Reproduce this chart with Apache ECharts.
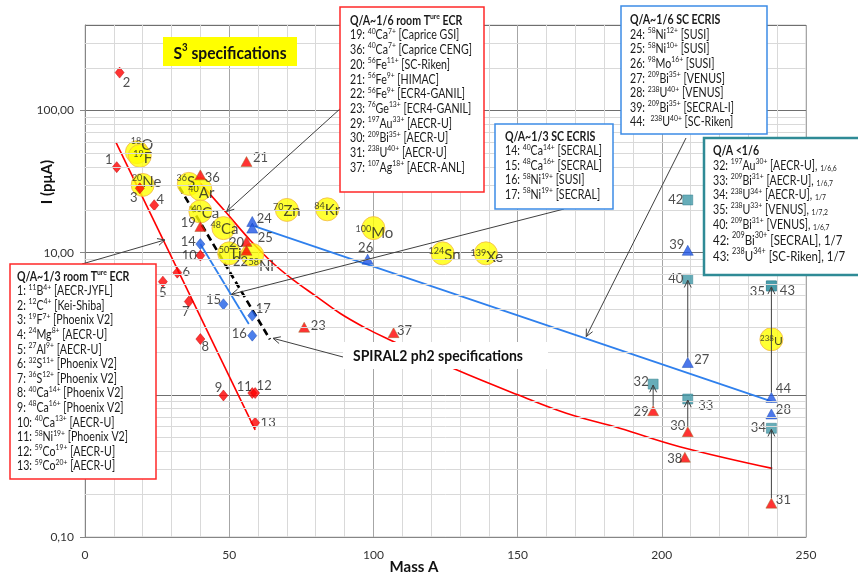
<!DOCTYPE html>
<html>
<head>
<meta charset="utf-8">
<script src="https://cdn.jsdelivr.net/npm/echarts@6/dist/echarts.min.js"></script>
<style>html,body{margin:0;padding:0;background:#fff}#main{width:858px;height:579px}</style>
</head>
<body>
<div id="main"></div>
<script>
var FONT = 'Lato, "Open Sans", sans-serif';

// Q/A~1/3 room temperature ECR (red diamonds)
var rtThirdIds  = [1, 2, 3, 4, 5, 6, 7, 8, 9, 10, 11, 12, 13];
var rtThirdMass = [11, 12, 19, 24, 27, 32, 36, 40, 48, 40, 58, 59, 59];
var rtThirdI    = [40, 185, 28.4, 21.6, 6.26, 7.24, 4.53, 2.47, 0.99, 9.55, 1.03, 1.03, 0.637];
// Q/A~1/3 SC ECRIS (blue diamonds)
var scThirdIds  = [14, 15, 16, 17];
var scThirdMass = [40, 48, 58, 58];
var scThirdI    = [11.5, 4.34, 2.61, 3.61];
// Q/A~1/6 room temperature ECR (red triangles)
var rtSixthIds  = [19, 36, 20, 21, 22, 23, 29, 30, 31, 37, 38];
var rtSixthMass = [40, 40, 56, 56, 56, 76, 197, 209, 238, 107, 208];
var rtSixthI    = [15.3, 35.3, 12.0, 43.8, 10.4, 2.99, 0.774, 0.551, 0.173, 2.74, 0.364];
// Q/A~1/6 SC ECRIS (blue triangles)
var scSixthIds  = [24, 25, 26, 27, 28, 39, 44];
var scSixthMass = [58, 58, 98, 209, 238, 209, 238];
var scSixthI    = [16.6, 14.9, 9.0, 1.69, 0.734, 10.4, 0.96];
// Q/A < 1/6 (teal squares)
var lowIds  = [32, 33, 34, 35, 43, 40, 42];
var lowMass = [197, 209, 238, 238, 238, 209, 209];
var lowI    = [1.19, 0.935, 0.582, 5.84, 5.84, 6.5, 23.5];
// S3 specifications (yellow discs)
var s3Mass = [18, 19, 20, 36, 40, 40, 48, 50, 58, 70, 84, 100, 124, 139, 238];
var s3Elem = ['O', 'F', 'Ne', 'S', 'Ar', 'Ca', 'Ca', 'Ti', 'Ni', 'Zn', 'Kr', 'Mo', 'Sn', 'Xe', 'U'];
var s3I    = [51, 48, 30, 30.5, 28, 19.5, 14.9, 9.9, 9.65, 20, 20.2, 14.9, 9.9, 9.9, 2.46];
// trend lines
var fitRtThirdMass = [10.7, 59];
var fitRtThirdI    = [60, 0.567];
var fitRtSixthMass = [40, 49.1, 57.2, 65.2, 72.2, 80.3, 88.4, 96.4, 104.5, 128.8, 150.1, 166.9, 185.4, 206.2, 238.3];
var fitRtSixthI    = [30.8, 19.0, 12.3, 8.43, 6.44, 4.91, 3.75, 3.02, 2.50, 1.50, 1.00, 0.742, 0.582, 0.432, 0.304];
var fitScThirdMass = [40, 56.8];
var fitScThirdI    = [11.5, 3.15];
var fitScSixthMass = [58.9, 238.3];
var fitScSixthI    = [15.3, 0.895];
var spiralMass = [32.7, 64.1];
var spiralI    = [28.9, 2.46];
// arrows lower point -> upgraded point
var upgradePairs = [[29, 32], [30, 33], [27, 40], [31, 34], [44, 35]];

// legend boxes text ( ^...^ = superscript, _ = small suffix, * = larger line )
var boxRtThird = ['1: ^11^B^4+^ [AECR-JYFL]', '2: ^12^C^4+^ [Kei-Shiba]', '3: ^19^F^7+^ [Phoenix V2]',
  '4: ^24^Mg^8+^ [AECR-U]', '5: ^27^Al^9+^ [AECR-U]', '6: ^32^S^11+^ [Phoenix V2]', '7: ^36^S^12+^ [Phoenix V2]',
  '8: ^40^Ca^14+^ [Phoenix V2]', '9: ^48^Ca^16+^ [Phoenix V2]', '10: ^40^Ca^13+^ [AECR-U]',
  '11: ^58^Ni^19+^ [Phoenix V2]', '12: ^59^Co^19+^ [AECR-U]', '13: ^59^Co^20+^ [AECR-U]'];
var boxRtSixth = ['19: ^40^Ca^7+^ [Caprice GSI]', '36: ^40^Ca^7+^ [Caprice CENG]', '20: ^56^Fe^11+^ [SC-Riken]',
  '21: ^56^Fe^9+^ [HIMAC]', '22: ^56^Fe^9+^ [ECR4-GANIL]', '23: ^76^Ge^13+^ [ECR4-GANIL]', '29: ^197^Au^33+^ [AECR-U]',
  '30: ^209^Bi^35+^ [AECR-U]', '31: ^238^U^40+^ [AECR-U]', '37: ^107^Ag^18+^ [AECR-ANL]'];
var boxScThird = ['14: ^40^Ca^14+^ [SECRAL]', '15: ^48^Ca^16+^ [SECRAL]', '16: ^58^Ni^19+^ [SUSI]', '17: ^58^Ni^19+^ [SECRAL]'];
var boxScSixth = ['24: ^58^Ni^12+^ [SUSI]', '25: ^58^Ni^10+^ [SUSI]', '26: ^98^Mo^16+^ [SUSI]', '27: ^209^Bi^35+^ [VENUS]',
  '28: ^238^U^40+^ [VENUS]', '39: ^209^Bi^35+^ [SECRAL-I]', '44:  ^238^U^40+^ [SC-Riken]'];
var boxLow = ['32: ^197^Au^30+^ [AECR-U], _1/6,6', '33: ^209^Bi^31+^ [AECR-U], _1/6,7', '34: ^238^U^34+^ [AECR-U], _1/7',
  '35: ^238^U^33+^ [VENUS], _1/7,2', '40: ^209^Bi^31+^ [VENUS], _1/6,7', '*42: ^209^Bi^30+^ [SECRAL], 1/7', '*43: ^238^U^34+^ [SC-Riken], 1/7'];

// label offsets (px) relative to marker centre
var labelShift = {
  1: [-8, -7], 2: [7, 10], 3: [-6, 10], 4: [6, -5], 5: [0, 11], 6: [9, -1], 7: [-3, 10], 8: [5, 8], 9: [-5, -8],
  10: [-11, 0], 11: [-8, -6], 12: [9, -7], 13: [13, 0], 14: [-12, -2], 15: [-10, -4], 16: [-13, -2], 17: [11, -7],
  19: [-12, -4], 36: [12, 3], 20: [-10, 1], 21: [14, -4], 22: [-6, 12], 23: [14, -1], 29: [-12, 1], 30: [-10, -6],
  31: [12, -3], 37: [11, -2], 38: [-10, 2], 24: [12, -3], 25: [13, 10], 26: [-2, -11], 27: [14, -3], 28: [12, -4],
  39: [-11, -5], 44: [12, -9], 32: [-12, -2], 33: [18, 7], 34: [-13, 0], 35: [-14, 6], 43: [16, 5], 40: [-12, 0], 42: [-12, 0]
};
var s3Shift = [[5, -7], [3, 2], [4, -3], [-3, -2], [1, 4], [5, 2], [1, 1], [1, 1], [9, 11], [0, 1], [0, 1], [1, 5], [2, 2], [1, 4], [0, 2]];

function pts(ids, mass, cur) {
  return ids.map(function (id, i) {
    return { name: String(id), value: [mass[i], cur[i]], label: { offset: labelShift[id] || [0, 0] } };
  });
}
function pairs(mass, cur) { return mass.map(function (m, i) { return [m, cur[i]]; }); }

var ptLabel = { show: true, position: 'inside', formatter: '{b}', fontSize: 13, fontFamily: FONT, color: '#222' };

function fit(mass, cur, color, width, type, smooth) {
  return {
    type: 'line', data: pairs(mass, cur), showSymbol: false, smooth: smooth, z: 2, silent: true,
    lineStyle: { color: color, width: width, type: type }
  };
}
function scatter(ids, mass, cur, symbol, size, color, border) {
  return {
    type: 'scatter', data: pts(ids, mass, cur), symbol: symbol, symbolSize: size, z: 4,
    itemStyle: { color: color, borderColor: border, borderWidth: 0.6 }, label: ptLabel
  };
}

var minorY = [];
[0.1, 1, 10, 100].forEach(function (d) {
  for (var k = 2; k <= 9; k++) { if (k * d < 400) minorY.push(+(k * d).toPrecision(3)); }
});

var chart = echarts.init(document.getElementById('main'));
chart.setOption({
  animation: false,
  backgroundColor: '#fff',
  textStyle: { fontFamily: FONT },
  grid: { left: 85, right: 52, top: 25, bottom: 42, show: true, borderColor: '#C8C8C8', borderWidth: 1 },
  xAxis: {
    type: 'value', min: 0, max: 250, interval: 50,
    axisLine: { show: true, lineStyle: { color: '#868686' } },
    axisTick: { show: false },
    axisLabel: { fontSize: 12, color: '#333', fontFamily: FONT, margin: 12 },
    splitLine: { lineStyle: { color: '#A6A6A6' } },
    minorTick: { show: false, splitNumber: 5 },
    minorSplitLine: { show: true, lineStyle: { color: '#D9D9D9' } }
  },
  yAxis: {
    type: 'log', logBase: 10, min: 0.1, max: 400,
    axisLine: { show: true, lineStyle: { color: '#868686' } },
    axisTick: { show: true, length: 5, lineStyle: { color: '#868686' } },
    axisLabel: {
      fontSize: 12, color: '#333', fontFamily: FONT, margin: 11, showMaxLabel: false,
      formatter: function (v) { return v >= 399 ? '' : v.toFixed(2).replace('.', ','); }
    },
    splitLine: { lineStyle: { color: '#6F6F6F' } }
  },
  series: [
    {
      type: 'line', data: [], z: 1, silent: true,
      markLine: {
        silent: true, symbol: ['none', 'none'], label: { show: false }, animation: false,
        lineStyle: { color: '#D9D9D9', width: 1, type: 'solid' },
        data: minorY.map(function (v) { return { yAxis: v }; })
      }
    },
    fit(fitRtThirdMass, fitRtThirdI, '#FF0000', 1.6, 'solid', false),
    fit(fitRtSixthMass, fitRtSixthI, '#FF0000', 1.6, 'solid', 0.4),
    fit(fitScThirdMass, fitScThirdI, '#2F80ED', 1.8, 'solid', false),
    fit(fitScSixthMass, fitScSixthI, '#2F80ED', 1.8, 'solid', false),
    fit(spiralMass, spiralI, '#000000', 2.6, [7, 4], false),
    {
      type: 'scatter', z: 3, symbol: 'circle', symbolSize: 23,
      data: s3Mass.map(function (m, i) { return { value: [m, s3I[i]], label: { offset: s3Shift[i] } }; }),
      itemStyle: { color: '#FFFF00', borderColor: '#F2B84B', borderWidth: 1 },
      label: {
        show: true, position: 'inside',
        formatter: function (p) {
          var u = s3Elem[p.dataIndex] === 'U';
          return '{' + (u ? 'um' : 'm') + '|' + s3Mass[p.dataIndex] + '}{' + (u ? 'u' : 'e') + '|' + s3Elem[p.dataIndex] + '}';
        },
        rich: {
          m: { fontSize: 9, fontFamily: FONT, color: '#222', verticalAlign: 'top', lineHeight: 10 },
          e: { fontSize: 15, fontFamily: FONT, color: '#222', lineHeight: 17 },
          um: { fontSize: 8, fontFamily: FONT, color: '#222', verticalAlign: 'top', lineHeight: 9 },
          u: { fontSize: 12, fontFamily: FONT, color: '#222', lineHeight: 14 }
        }
      }
    },
    scatter(rtThirdIds, rtThirdMass, rtThirdI, 'diamond', [9, 11], '#FF0000', '#C00000'),
    scatter(scThirdIds, scThirdMass, scThirdI, 'diamond', [9, 11], '#1F5FE6', '#1446B0'),
    scatter(rtSixthIds, rtSixthMass, rtSixthI, 'triangle', [11, 10], '#FF0000', '#9C6A2A'),
    scatter(scSixthIds, scSixthMass, scSixthI, 'triangle', [11, 10], '#1F55E6', '#1446B0'),
    scatter(lowIds, lowMass, lowI, 'rect', [10, 10], '#4198A8', '#2E7C8C')
  ]
});

// ---------- annotations ----------
function richLine(str, n, s) {
  var small = '';
  var k = str.indexOf('_');
  if (k >= 0) { small = str.slice(k + 1); str = str.slice(0, k); }
  var out = str.split('^').map(function (p, i) { return p ? '{' + (i % 2 ? s : n) + '|' + p + '}' : ''; }).join('');
  return out + (small ? '{m|' + small + '}' : '');
}
function richSet(fs, lh) {
  function st(size, h, va, bold) {
    return { fontSize: size, lineHeight: h, verticalAlign: va, fontFamily: FONT, fill: '#1a1a1a', fontWeight: bold ? 'bold' : 'normal' };
  }
  return {
    n: st(fs, lh, 'bottom'), s: st(fs * 0.64, 11.5, 'top'),
    b: st(fs, lh, 'bottom', true), bs: st(fs * 0.64, 11.5, 'top', true),
    m: st(8, 10, 'bottom'),
    N: st(13.5, 16, 'bottom'), S: st(8.5, 12, 'top')
  };
}
var TEXT_SQUEEZE = 0.85;
var boxDefs = [
  { x: 10, y: 264, w: 146, h: 215, stroke: '#FF2828', lw: 1.5, tx: 7, ty: 4.5, fs: 12.5, lh: 14.6, title: 'Q/A~1/3 room T^ure^ ECR', lines: boxRtThird },
  { x: 340, y: 7, w: 144, h: 185, stroke: '#FF2828', lw: 1.5, tx: 10, ty: 5.5, fs: 12.5, lh: 14.7, title: 'Q/A~1/6 room T^ure^ ECR', lines: boxRtSixth },
  { x: 495, y: 124, w: 118, h: 85, stroke: '#3C8CE6', lw: 1.5, tx: 10, ty: 4.5, fs: 12.5, lh: 14.5, title: 'Q/A~1/3 SC ECRIS', lines: boxScThird },
  { x: 621, y: 6, w: 146, h: 128, stroke: '#3C8CE6', lw: 1.5, tx: 9, ty: 6, fs: 12.5, lh: 14.6, title: 'Q/A~1/6 SC ECRIS', lines: boxScSixth },
  { x: 704, y: 138, w: 160, h: 137, stroke: '#2F8B96', lw: 2.5, tx: 9, ty: 5, fs: 12.5, lh: 14.7, title: 'Q/A <1/6', lines: boxLow }
];

var graphics = [];
boxDefs.forEach(function (b) {
  var rich = richSet(b.fs, b.lh);
  var txt = [richLine(b.title, 'b', 'bs')].concat(b.lines.map(function (l) {
    return l.charAt(0) === '*' ? richLine(l.slice(1), 'N', 'S') : richLine(l, 'n', 's');
  })).join('\n');
  graphics.push({ type: 'rect', z: 100, silent: true, shape: { x: b.x, y: b.y, width: b.w, height: b.h },
    style: { fill: '#fff', stroke: b.stroke, lineWidth: b.lw } });
  graphics.push({ type: 'text', z: 101, silent: true, x: b.x + b.tx, y: b.y + b.ty, scaleX: TEXT_SQUEEZE,
    style: { text: txt, rich: rich, fill: '#1a1a1a', fontFamily: FONT, fontSize: b.fs, align: 'left', verticalAlign: 'top' } });
});

// S3 specifications tag
graphics.push({ type: 'rect', z: 100, silent: true, shape: { x: 163, y: 37, width: 134, height: 29 }, style: { fill: '#FFFF00' } });
graphics.push({ type: 'text', z: 101, silent: true, x: 230, y: 52, scaleX: 0.92,
  style: { text: '{b|S}{s|3}{b| specifications}', align: 'center', verticalAlign: 'middle',
    rich: { b: { fontSize: 17, fontWeight: 'bold', fontFamily: FONT, fill: '#111', lineHeight: 20, verticalAlign: 'bottom' },
            s: { fontSize: 10.5, fontWeight: 'bold', fontFamily: FONT, fill: '#111', lineHeight: 14, verticalAlign: 'top' } } } });
// SPIRAL2 tag
graphics.push({ type: 'rect', z: 100, silent: true, shape: { x: 343, y: 342, width: 205, height: 27 }, style: { fill: '#fff' } });
graphics.push({ type: 'text', z: 101, silent: true, x: 353, y: 356, scaleX: 0.9,
  style: { text: 'SPIRAL2 ph2 specifications', fontSize: 15.5, fontWeight: 'bold', fontFamily: FONT, fill: '#111', align: 'left', verticalAlign: 'middle' } });
// axis titles
graphics.push({ type: 'text', z: 101, silent: true, x: 47, y: 182, rotation: Math.PI / 2,
  style: { text: 'I (pμA)', fontSize: 15, fontWeight: 'bold', fontFamily: FONT, fill: '#111', align: 'center', verticalAlign: 'middle' } });
graphics.push({ type: 'text', z: 101, silent: true, x: 414, y: 567,
  style: { text: 'Mass A', fontSize: 15, fontWeight: 'bold', fontFamily: FONT, fill: '#111', align: 'center', verticalAlign: 'middle' } });

function toPx(v) { return chart.convertToPixel({ xAxisIndex: 0, yAxisIndex: 0 }, v); }
function arrow(p1, p2) {
  var a = Math.atan2(p2[1] - p1[1], p2[0] - p1[0]), L = 8, w = 0.45;
  var h1 = [p2[0] - L * Math.cos(a - w), p2[1] - L * Math.sin(a - w)];
  var h2 = [p2[0] - L * Math.cos(a + w), p2[1] - L * Math.sin(a + w)];
  var st = { stroke: '#404040', lineWidth: 1, fill: 'none' };
  graphics.push({ type: 'polyline', z: 50, silent: true, shape: { points: [p1, p2] }, style: st });
  graphics.push({ type: 'polyline', z: 50, silent: true, shape: { points: [h1, p2, h2] }, style: st });
}
// callout arrows: box edge (px) -> point on a trend line (data)
var callouts = [
  { from: [82, 264], to: [27.7, 12.3] },
  { from: [341, 108], to: [49.1, 19.5] },
  { from: [564, 209], to: [50.8, 5.1] },
  { from: [686, 138], to: [173.8, 2.57] },
  { from: [343, 357], to: [65.2, 2.5] }
];
callouts.forEach(function (c) { arrow(c.from, toPx(c.to)); });

var lookup = {};
[[rtSixthIds, rtSixthMass, rtSixthI], [scSixthIds, scSixthMass, scSixthI], [lowIds, lowMass, lowI]].forEach(function (g) {
  g[0].forEach(function (id, i) { lookup[id] = [g[1][i], g[2][i]]; });
});
upgradePairs.forEach(function (p) {
  var a = toPx(lookup[p[0]]), b = toPx(lookup[p[1]]);
  arrow([a[0], a[1] - 5], [b[0], b[1] + 1]);
});

chart.setOption({ graphic: graphics });
</script>
</body>
</html>
